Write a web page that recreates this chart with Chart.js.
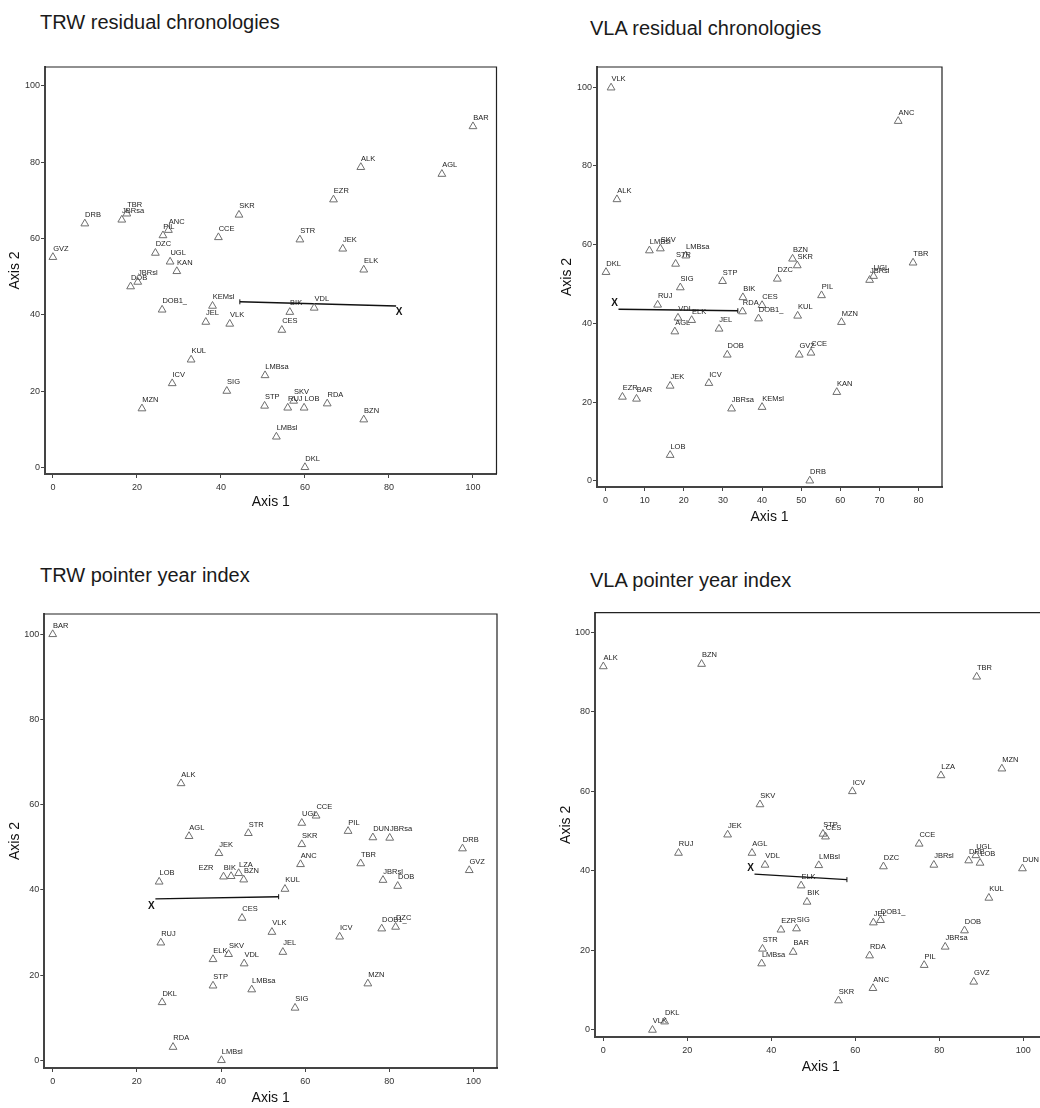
<!DOCTYPE html>
<html><head><meta charset="utf-8">
<script src="https://cdn.jsdelivr.net/npm/chart.js@4.4.0/dist/chart.umd.min.js"></script>
<style>
html,body{margin:0;padding:0;background:#fff;overflow:hidden;width:1040px;height:1108px;}
.title{position:absolute;font-family:"Liberation Sans",Arial,sans-serif;font-size:20px;line-height:20px;color:#1a1a1a;white-space:nowrap;}
canvas{position:absolute;}
</style></head><body>
<div class="title" style="left:40px;top:12px">TRW residual chronologies</div>
<div class="title" style="left:590px;top:18px">VLA residual chronologies</div>
<div class="title" style="left:40px;top:565px">TRW pointer year index</div>
<div class="title" style="left:590px;top:570px">VLA pointer year index</div>
<canvas id="c1"></canvas>
<canvas id="c2"></canvas>
<canvas id="c3"></canvas>
<canvas id="c4"></canvas>
<script>
// ---------- DATA ----------
const trwResSites = ["GVZ","DRB","JBRsa","TBR","PIL","ANC","CCE","SKR","DZC","UGL","KAN","JBRsl","DOB","BAR","ALK","AGL","EZR","STR","JEK","ELK","DOB1_","KEMsl","JEL","VLK","KUL","ICV","SIG","MZN","BIK","VDL","CES","LMBsa","STP","RUJ","SKV","LOB","RDA","BZN","LMBsl","DKL"];
const trwResX = [0,7.6,16.4,17.6,26.2,27.5,39.4,44.3,24.4,27.9,29.5,20.2,18.5,100,73.3,92.6,66.8,58.8,69.0,74.0,26.0,38.0,36.4,42.1,32.9,28.4,41.4,21.2,56.4,62.2,54.5,50.5,50.4,55.9,57.3,59.8,65.3,74.0,53.2,60.0];
const trwResY = [55.1,63.9,64.9,66.5,60.8,62.2,60.3,66.2,56.2,53.9,51.4,48.6,47.4,89.4,78.7,76.9,70.2,59.7,57.3,51.8,41.3,42.3,38.1,37.6,28.2,22.0,20.0,15.4,40.7,41.8,36.0,24.1,16.1,15.6,17.4,15.6,16.7,12.5,8.0,0];
const trwResLine = [[81.7,42.3],[44.5,43.4]];

const vlaResSites = ["VLK","ALK","DKL","LMBsl","SKV","LMBsa","STR","SIG","STP","ANC","BZN","SKR","DZC","TBR","UGL","JBRsl","BIK","RUJ","CES","RDA","VDL","ELK","AGL","JEL","DOB","JEK","ICV","EZR","BAR","JBRsa","LOB","DOB1_","KUL","PIL","MZN","GVZ","CCE","KAN","KEMsl","DRB"];
const vlaResX = [1.4,2.9,0.1,11.2,14.0,20.5,17.9,19.1,29.9,74.8,47.8,49.0,43.9,78.6,68.5,67.5,35.1,13.3,40.0,35.0,18.5,22.0,17.7,29.0,31.1,16.5,26.4,4.3,7.9,32.2,16.5,39.1,49.1,55.2,60.3,49.5,52.5,59.1,40.0,52.2];
const vlaResY = [99.9,71.5,53.0,58.5,59.0,57.2,55.1,49.1,50.7,91.4,56.4,54.7,51.3,55.4,52.0,51.0,46.6,44.7,44.6,43.0,41.4,40.8,37.9,38.6,32.0,24.1,24.8,21.3,20.8,18.3,6.5,41.2,41.9,47.1,40.3,32.0,32.5,22.5,18.7,0];
const vlaResLine = [[3.3,43.6],[33.8,43.2]];

const trwPyiSites = ["BAR","ALK","AGL","STR","UGL","CCE","SKR","PIL","DUN","JBRsa","DRB","JEK","ANC","TBR","GVZ","LOB","BIK","EZR","LZA","BZN","KUL","JBRsl","DOB","CES","VLK","ICV","DOB1_","DZC","RUJ","ELK","SKV","VDL","JEL","STP","LMBsa","MZN","DKL","SIG","RDA","LMBsl"];
const trwPyiX = [0,30.5,32.4,46.5,59.2,62.6,59.2,70.2,76.1,80.1,97.4,39.5,58.9,73.2,99.0,25.3,40.6,42.4,44.2,45.4,55.2,78.5,82.0,45.0,52.1,68.2,78.2,81.5,25.7,38.1,41.8,45.5,54.7,38.1,47.3,74.9,26.0,57.6,28.6,40.1];
const trwPyiY = [100,65.0,52.6,53.3,55.7,57.4,50.7,53.8,52.3,52.2,49.7,48.6,46.0,46.2,44.6,41.9,43.1,43.2,43.9,42.4,40.2,42.3,40.9,33.4,30.1,29.0,30.9,31.3,27.6,23.7,24.9,22.7,25.4,17.5,16.6,18.0,13.6,12.3,3.1,0];
const trwPyiLine = [[24.4,37.9],[53.7,38.4]];

const vlaPyiSites = ["ALK","BZN","TBR","MZN","LZA","ICV","SKV","JEK","STP","CES","CCE","RUJ","AGL","VDL","LMBsl","DZC","JBRsl","DRB","UGL","LOB","DUN","ELK","BIK","KUL","JEL","DOB1_","EZR","SIG","DOB","STR","BAR","JBRsa","RDA","LMBsa","PIL","GVZ","ANC","SKR","DKL","VLK"];
const vlaPyiX = [0,23.4,88.9,94.9,80.4,59.3,37.3,29.6,52.3,52.9,75.2,17.9,35.4,38.5,51.3,66.7,78.7,87.0,88.7,89.7,99.8,47.1,48.5,91.8,64.3,66.0,42.3,46.0,86.0,37.9,45.2,81.4,63.4,37.7,76.4,88.2,64.2,56.0,14.6,11.7];
const vlaPyiY = [91.4,92.0,88.8,65.7,64.0,60.0,56.7,49.1,49.3,48.6,46.8,44.5,44.5,41.5,41.4,41.1,41.5,42.6,43.9,42.0,40.6,36.3,32.2,33.2,27.0,27.6,25.2,25.5,25.0,20.4,19.6,20.9,18.7,16.7,16.3,12.1,10.5,7.4,2.1,0];
const vlaPyiLine = [[36.0,39.2],[58.0,37.8]];

const ticks0to100 = [0,20,40,60,80,100];
const ticks0to80 = [0,10,20,30,40,50,60,70,80];

// ---------- RENDERING ----------
const FAM = '"Liberation Sans", Arial, sans-serif';

function panel(id, sites, xs, ys, line, xTicks, yTicks, L) {
  const [fl, ft, fr, fb] = L.frame;
  const Wy = fl - L.cl;
  const pt = ft - L.ct;
  const cw = Math.round(fr - L.cl + 20);
  const pr = cw - (fr - L.cl);
  const Hx = Math.round(L.xTitleDy + 12.4);
  const padB = Hx - L.xTitleDy - 8.4;
  const ch = Math.round(fb - L.ct + Hx);
  const padY = L.yTitleX - L.cl - 8.4;
  const cv = document.getElementById(id);
  cv.width = cw; cv.height = ch;
  cv.style.left = L.cl + 'px'; cv.style.top = L.ct + 'px';
  cv.style.width = cw + 'px'; cv.style.height = ch + 'px';

  const plug = {
    id: 'siteLabels',
    afterDatasetsDraw(chart) {
      const ctx = chart.ctx;
      ctx.save();
      ctx.font = '7.5px ' + FAM;
      ctx.fillStyle = '#222';
      ctx.textAlign = 'left';
      ctx.textBaseline = 'alphabetic';
      const meta = chart.getDatasetMeta(0);
      meta.data.forEach((el, i) => {
        const n = (L.nudge && L.nudge[sites[i]]) || [0, 0];
        ctx.fillText(sites[i], el.x + 0.3 + n[0], el.y - 6.6 + n[1]);
      });
      const lm = chart.getDatasetMeta(1);
      const p = lm.data[0];
      ctx.font = 'bold 10px ' + FAM;
      ctx.fillStyle = '#111';
      ctx.textAlign = 'center';
      ctx.textBaseline = 'middle';
      ctx.fillText('X', p.x + L.mark[0], p.y + L.mark[1]);
      ctx.restore();
    },
    afterDraw(chart) {
      const a = chart.chartArea, ctx = chart.ctx;
      ctx.save();
      ctx.strokeStyle = '#222';
      ctx.lineWidth = 1.2;
      ctx.beginPath();
      ctx.moveTo(a.left, a.top);
      ctx.lineTo(a.right, a.top);
      ctx.lineTo(a.right, a.bottom);
      ctx.stroke();
      ctx.restore();
    }
  };

  new Chart(cv, {
    type: 'scatter',
    data: {
      datasets: [
        {
          data: xs.map((x, i) => ({x: x, y: ys[i]})),
          pointStyle: 'triangle', pointRadius: 4.5, pointBorderWidth: 1,
          pointBorderColor: '#6e6e6e', pointBackgroundColor: 'rgba(0,0,0,0)'
        },
        {
          data: line.map(p => ({x: p[0], y: p[1]})),
          showLine: true, borderColor: '#111', borderWidth: 1.4,
          pointRadius: [0, 2.5], pointStyle: 'line', pointRotation: 90,
          pointBorderColor: '#111', pointBorderWidth: 1
        }
      ]
    },
    options: {
      responsive: false, animation: false, events: [],
      layout: {padding: {left: 0, top: pt, right: pr, bottom: 0}},
      plugins: {legend: {display: false}, tooltip: {enabled: false}},
      scales: {
        x: {
          type: 'linear', min: L.x[0], max: L.x[1],
          afterBuildTicks: s => { s.ticks = xTicks.map(v => ({value: v})); },
          afterFit: s => { s.height = Hx; },
          ticks: {font: {size: 9, family: FAM}, color: '#333', padding: 4, autoSkip: false, maxRotation: 0},
          grid: {drawOnChartArea: false, tickLength: 4, color: '#444'},
          border: {color: '#444', width: 2},
          title: {display: true, text: 'Axis 1', font: {size: 14, family: FAM}, color: '#111', padding: {top: 0, bottom: padB}}
        },
        y: {
          type: 'linear', min: L.y[0], max: L.y[1],
          afterBuildTicks: s => { s.ticks = yTicks.map(v => ({value: v})); },
          afterFit: s => { s.width = Wy; },
          ticks: {font: {size: 9, family: FAM}, color: '#333', padding: 1, autoSkip: false},
          grid: {drawOnChartArea: false, tickLength: 4, color: '#444'},
          border: {color: '#444', width: 2},
          title: {display: true, text: 'Axis 2', font: {size: 14, family: FAM}, color: '#111', padding: {top: padY, bottom: 0}}
        }
      }
    },
    plugins: [plug]
  });
}

panel('c1', trwResSites, trwResX, trwResY, trwResLine, ticks0to100, ticks0to100,
  {frame: [45, 67, 496.5, 474], cl: 0, ct: 50, x: [-1.88, 105.6], y: [-1.76, 104.98], xTitleDy: 27.7, yTitleX: 15.5, mark: [3, 6]});
panel('c2', vlaResSites, vlaResX, vlaResY, vlaResLine, ticks0to80, ticks0to100,
  {frame: [597, 67, 942, 487], cl: 545, ct: 50, x: [-2.2, 86.0], y: [-1.6, 105.16], xTitleDy: 30, yTitleX: 567, mark: [-4, -6]});
panel('c3', trwPyiSites, trwPyiX, trwPyiY, trwPyiLine, ticks0to100, ticks0to100,
  {frame: [44.3, 614, 497, 1067.7], cl: 0, ct: 595, x: [-2.0, 105.6], y: [-1.81, 104.77], xTitleDy: 30.6, yTitleX: 15.5, mark: [-4, 7],
   nudge: {EZR: [-33, 0]}});
panel('c4', vlaPyiSites, vlaPyiX, vlaPyiY, vlaPyiLine, ticks0to100, ticks0to100,
  {frame: [595, 612.7, 1046.4, 1037.3], cl: 545, ct: 595, x: [-1.98, 105.5], y: [-1.76, 104.92], xTitleDy: 30, yTitleX: 566, mark: [-4, -6]});
</script>
</body></html>
